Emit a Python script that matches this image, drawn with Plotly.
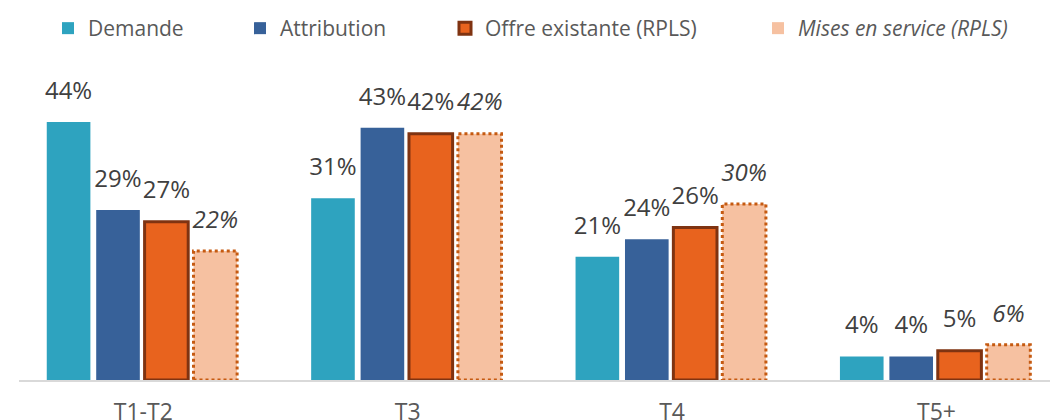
import plotly.graph_objects as go

categories = ["T1-T2", "T3", "T4", "T5+"]
demande = [44, 31, 21, 4]
attribution = [29, 43, 24, 4]
offre = [27, 42, 26, 5]
mises = [22, 42, 30, 6]

W, H = 1058, 420
bw = 0.165
offsets = [-0.365, -0.178, 0.005, 0.19]
legend_x = [40, 232, 437, 750]  # px, left edge of each legend block

fig = go.Figure()

series = [
    ("Demande", demande, "#2EA3BF", "#2EA3BF", 0, "normal"),
    ("Attribution", attribution, "#376199", "#376199", 0, "normal"),
    ("Offre existante (RPLS)", offre, "#E8631E", "#7F3311", 3, "normal"),
    ("<i>Mises en service (RPLS)</i>", mises, "#F6C1A1", "#C55A11", 0, "italic"),
]

xs = list(range(len(categories)))
for k, ((name, vals, fill, edge, lw, style), off) in enumerate(zip(series, offsets)):
    lg = "legend" if k == 0 else f"legend{k + 1}"
    fig.add_trace(go.Bar(
        name=name, x=xs, y=vals, width=bw, offset=off, legend=lg,
        marker=dict(color=fill, line=dict(color=edge, width=lw)),
        hoverinfo="skip",
    ))
    # value labels, lifted above the bar with an invisible marker
    fig.add_trace(go.Scatter(
        x=[i + off + bw / 2 for i in xs], y=vals, mode="markers+text",
        text=[f"{v}%" for v in vals], textposition="top center",
        textfont=dict(size=24, color="#404040", style=style),
        marker=dict(size=26, opacity=0), showlegend=False,
        hoverinfo="skip", cliponaxis=False,
    ))

# dotted outline for "Mises en service"
for i, v in enumerate(mises):
    fig.add_shape(type="rect", xref="x", yref="y",
                  x0=i + offsets[3], x1=i + offsets[3] + bw, y0=0, y1=v,
                  line=dict(color="#C55A11", width=3, dash="dot"))

legend_common = dict(orientation="h", y=1.0, yref="container", yanchor="top",
                     xref="container", xanchor="left",
                     font=dict(size=21, color="#595959"), itemwidth=30,
                     bgcolor="rgba(0,0,0,0)")
layout_legends = {}
for k, lx in enumerate(legend_x):
    key = "legend" if k == 0 else f"legend{k + 1}"
    layout_legends[key] = dict(legend_common, x=lx / W)

fig.update_layout(
    width=W, height=H,
    margin=dict(l=11, r=0, t=70, b=48),
    plot_bgcolor="white", paper_bgcolor="white",
    font=dict(family="Open Sans, sans-serif", color="#595959"),
    barmode="overlay",
    showlegend=True,
    xaxis=dict(tickmode="array", tickvals=xs, ticktext=categories,
               range=[-0.47, 3.49], showgrid=False, zeroline=False,
               showline=True, linecolor="#D9D9D9", linewidth=2,
               ticks="", tickfont=dict(size=23, color="#595959"),
               ticklabelstandoff=10),
    yaxis=dict(range=[0, 51.5], visible=False, showgrid=False),
    **layout_legends,
)

fig.write_html("out.html")
